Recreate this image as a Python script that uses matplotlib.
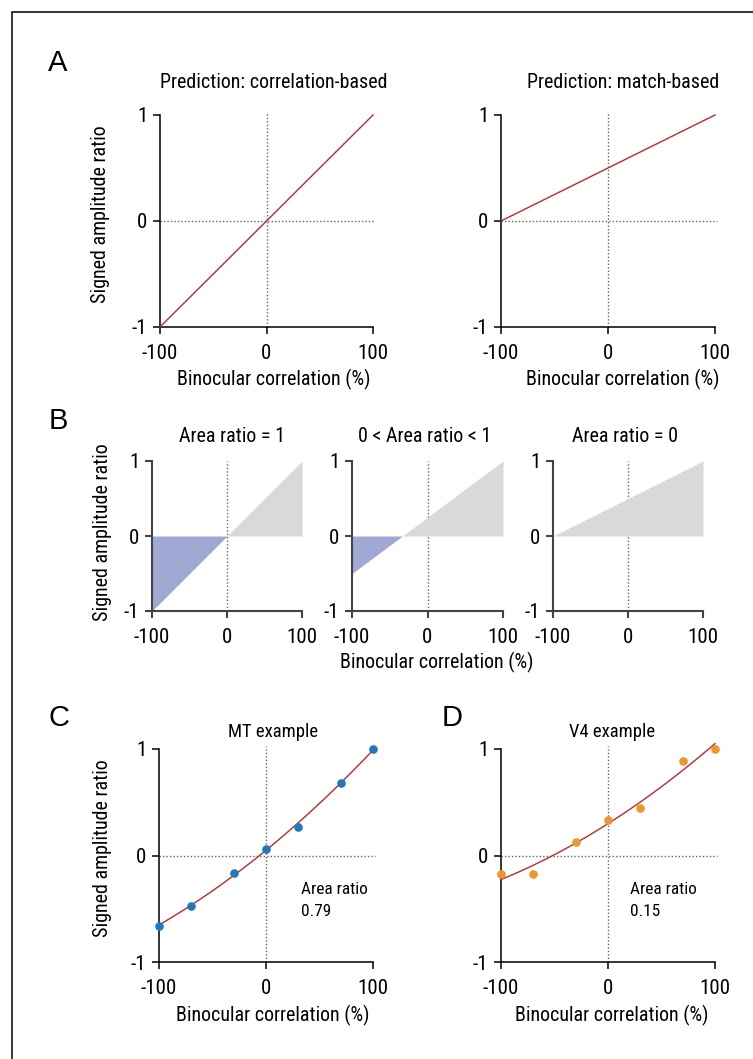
import numpy as np
import matplotlib
matplotlib.use("Agg")
import matplotlib.pyplot as plt
from matplotlib import font_manager as fm
from matplotlib.patches import Rectangle

# ---------------- data ----------------
corr_x = [-100, 100]
pred_corr_y = [-1.0, 1.0]          # correlation-based prediction
pred_match_y = [0.0, 1.0]          # match-based prediction

b_titles = ["Area ratio = 1", "0 < Area ratio < 1", "Area ratio = 0"]
b_line_y = [[-1.0, 1.0], [-0.5, 1.0], [0.0, 1.0]]

stim_x = [-100, -70, -30, 0, 30, 70, 100]
mt_y = [-0.66, -0.47, -0.16, 0.06, 0.27, 0.68, 1.0]
v4_y = [-0.175, -0.175, 0.13, 0.33, 0.45, 0.89, 1.0]
mt_area = "0.79"
v4_area = "0.15"

xticks = [-100, 0, 100]
yticks = [-1, 0, 1]
xtick_labels = ["-100", "0", "100"]
ytick_labels = ["-1", "0", "1"]

# ---------------- fonts: look for a narrow sans ----------------
def _is_regular(f):
    return f.style == "normal" and str(f.weight) in ("400", "normal", "regular", "book")

def _stretch_val(s):
    table = {"ultra-condensed": 100, "extra-condensed": 200, "condensed": 300,
             "semi-condensed": 400, "normal": 500, "semi-expanded": 600}
    if isinstance(s, (int, float)):
        return s
    return table.get(str(s), 500)

chosen = None
prefs = ["Liberation Sans Narrow", "Arial Narrow", "Roboto Condensed", "Noto Sans",
         "Open Sans Condensed", "Open Sans", "DejaVu Sans"]
cands = []
for f in fm.fontManager.ttflist:
    if not _is_regular(f):
        continue
    sv = _stretch_val(f.stretch)
    narrow = ("Narrow" in f.name) or ("Condensed" in f.name) or sv <= 400
    if not narrow:
        continue
    rank = prefs.index(f.name) if f.name in prefs else len(prefs)
    cands.append((rank, abs(sv - 300), f.fname))
if cands:
    cands.sort()
    chosen = cands[0][2]

W, H = 753, 1059
fig = plt.figure(figsize=(W / 100, H / 100), dpi=100)
renderer = fig.canvas.get_renderer()

if chosen:
    base_fp = fm.FontProperties(fname=chosen)
else:
    base_fp = fm.FontProperties(family="Liberation Sans")

# calibrate size so that the axis label has the reference width (~194 px)
_t = fig.text(0, 0, "Binocular correlation (%)", fontproperties=base_fp, fontsize=15.5)
_w = _t.get_window_extent(renderer).width
_t.remove()
SC = float(np.clip(194.0 / _w, 0.84, 1.06))


def FP(size):
    p = base_fp.copy()
    p.set_size(size * SC)
    return p


def px(x):
    return x / W


def py(y):
    return 1 - y / H


def make_ax(x0, x1, ytop, ybot):
    return fig.add_axes([px(x0), py(ybot), px(x1 - x0), (ybot - ytop) / H])


RED = "#c1272d"
BLUE = "#2079be"
ORANGE = "#f0962e"
DOT = "#666666"
TICK_FS = 16.2
LAB_FS = 15.5


def style(ax, spine_col="black", lw=1.1):
    ax.set_xlim(-100, 100)
    ax.set_ylim(-1, 1)
    for s in ["top", "right"]:
        ax.spines[s].set_visible(False)
    for s in ["left", "bottom"]:
        ax.spines[s].set_color(spine_col)
        ax.spines[s].set_linewidth(lw)
    ax.set_xticks(xticks)
    ax.set_xticklabels(xtick_labels, fontproperties=FP(TICK_FS))
    ax.set_yticks(yticks)
    ax.set_yticklabels(ytick_labels, fontproperties=FP(TICK_FS))
    ax.tick_params(direction="out", length=5, width=lw, color=spine_col)
    ax.tick_params(axis="x", pad=7)
    ax.tick_params(axis="y", pad=4)
    ax.patch.set_alpha(0)


def dotted(ax, horiz=True):
    ax.plot([0, 0], [-1, 1.03], ls=(0, (1, 1.5)), color=DOT, lw=1, clip_on=False, zorder=1)
    if horiz:
        ax.plot([-100, 102], [0, 0], ls=(0, (1, 1.5)), color=DOT, lw=1, clip_on=False, zorder=1)


def ftext(x, y, s, size, **kw):
    kw.setdefault("ha", "center")
    kw.setdefault("va", "center")
    fig.text(px(x), py(y), s, fontproperties=FP(size), **kw)


# ---------------- Panel A ----------------
axA1 = make_ax(160, 373, 115, 327)
axA2 = make_ax(501, 715, 115, 327)
for ax, ys, title, tx in [(axA1, pred_corr_y, "Prediction: correlation-based", 274),
                          (axA2, pred_match_y, "Prediction: match-based", 623)]:
    style(ax)
    dotted(ax)
    ax.plot(corr_x, ys, color=RED, lw=1.0, clip_on=False, zorder=3)
    ftext(tx, 83, title, LAB_FS)
    ftext(tx, 379, "Binocular correlation (%)", LAB_FS)
ftext(101, 214, "Signed amplitude ratio", LAB_FS, rotation=90)

# ---------------- Panel B ----------------
b_pos = [(152, 302), (352, 503), (553, 703)]
b_tx = [232, 425, 625]
for i, ((x0, x1), ys, title) in enumerate(zip(b_pos, b_line_y, b_titles)):
    ax = make_ax(x0, x1, 461, 611)
    style(ax, spine_col="#444444", lw=1.5)
    ax.plot([0, 0], [-1, 1.0], ls=(0, (1, 1.5)), color=DOT, lw=1, zorder=1)
    yarr = np.array(ys)
    xarr = np.array(corr_x)
    ax.fill_between(xarr, yarr, 0, where=yarr <= 0, interpolate=True,
                    color="#a0a8d4", lw=0, zorder=2)
    ax.fill_between(xarr, yarr, 0, where=yarr >= 0, interpolate=True,
                    color="#d9d9d9", lw=0, zorder=2)
    ftext(b_tx[i], 437, title, LAB_FS)
ftext(437, 662, "Binocular correlation (%)", LAB_FS)
ftext(102, 532, "Signed amplitude ratio", LAB_FS, rotation=90)

# ---------------- Panels C & D ----------------
axC = make_ax(159, 373, 749, 962)
axD = make_ax(501, 715, 749, 962)
xfit = np.linspace(-100, 100, 200)
for ax, ys, col, title, tx, area, ax_txt in [
        (axC, mt_y, BLUE, "MT example", 273, mt_area, 301),
        (axD, v4_y, ORANGE, "V4 example", 612, v4_area, 630)]:
    style(ax)
    dotted(ax)
    coef = np.polyfit(stim_x, ys, 2)
    ax.plot(xfit, np.polyval(coef, xfit), color=RED, lw=1.0, zorder=3, clip_on=False)
    ax.plot(stim_x, ys, "o", color=col, ms=6.2, mec="none", zorder=4, clip_on=False)
    ftext(tx, 732, title, 14.4)
    ftext(ax_txt, 889, "Area ratio", 13.3, ha="left")
    ftext(ax_txt, 912, area, 13.3, ha="left")
    ftext(tx, 1015, "Binocular correlation (%)", LAB_FS)
ftext(102, 848, "Signed amplitude ratio", LAB_FS, rotation=90)

# ---------------- panel letters ----------------
for letter, (lx, ly) in {"A": (58, 63), "B": (58, 421), "C": (59, 718), "D": (452, 718)}.items():
    fig.text(px(lx), py(ly), letter, ha="center", va="center", fontsize=21,
             family=["Liberation Sans", "DejaVu Sans"])

# border
fig.patches.append(Rectangle((px(12), py(1100)), px(800), (1100 - 12) / H,
                             transform=fig.transFigure, fill=False, ec="black", lw=1.1))

fig.savefig("out.png", dpi=100)
